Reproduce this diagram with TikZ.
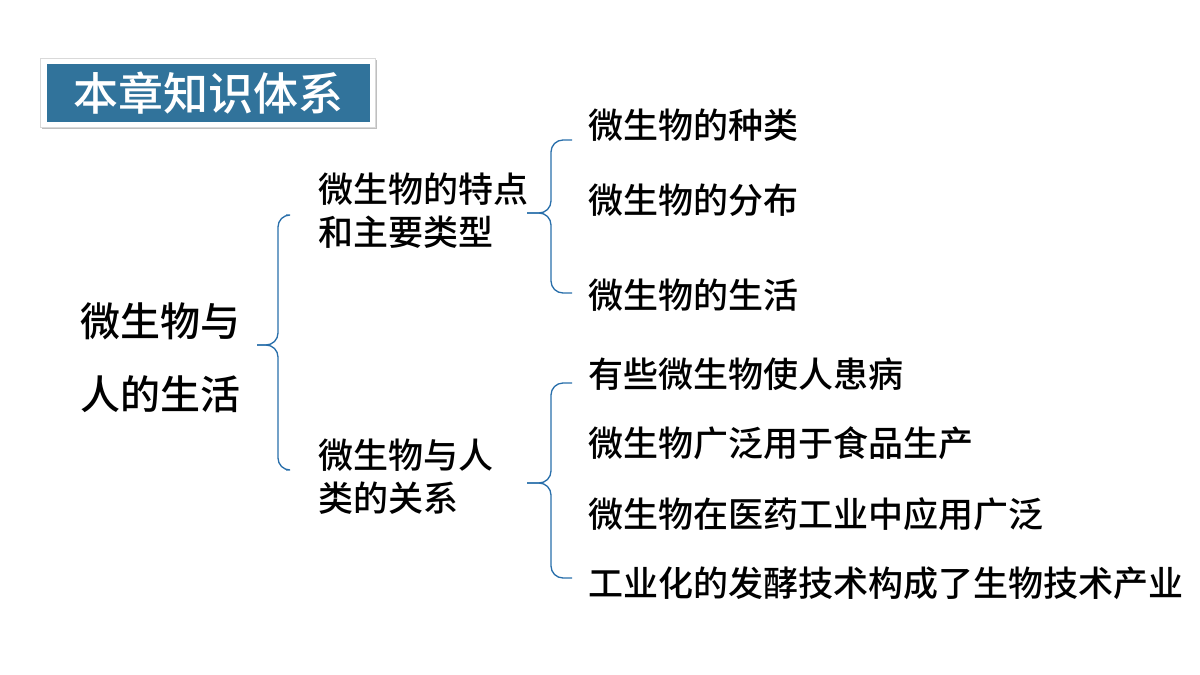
\documentclass[tikz,border=0pt]{standalone}
\usepackage{fontspec}
\setmainfont{Noto Sans CJK SC}[BoldFont={Noto Sans CJK SC Medium}]
\usetikzlibrary{positioning}
\definecolor{titleblue}{RGB}{49,115,155}
\definecolor{bracketblue}{RGB}{40,110,170}
\begin{document}
\begin{tikzpicture}[x=1pt,y=-1pt]
\tikzstyle{root}=[anchor=west, inner sep=0pt, font=\bfseries\fontsize{40}{73}\selectfont]
\tikzstyle{mid}=[anchor=west, inner sep=0pt, align=left, font=\bfseries\fontsize{35}{43}\selectfont]
\tikzstyle{leaf}=[anchor=west, inner sep=0pt, font=\bfseries\fontsize{35}{40}\selectfont]
\tikzstyle{brace}=[draw=bracketblue, line width=1.3pt, rounded corners=12pt]
\useasboundingbox (0,0) rectangle (1200,675);

  % title
  \fill[black!25] (42,60) rectangle (377,129);
  \fill[white, draw=black!15] (40,58) rectangle (375,127);
  \node[fill=titleblue, text=white, minimum width=323pt, minimum height=58pt,
        font=\bfseries\fontsize{45}{48}\selectfont] (title) at (208.5,93) {本章知识体系};

  % texts
  \node[root, align=left] (life) at (80,358) {微生物与\\人的生活};
  \node[mid] (traits)   at (318,211) {微生物的特点\\和主要类型};
  \node[mid] (relation) at (318,477) {微生物与人\\类的关系};

  \node[leaf] (kinds)   at (588,125) {微生物的种类};
  \node[leaf] (spread)  at (588,200) {微生物的分布};
  \node[leaf] (living)  at (588,295) {微生物的生活};

  \node[leaf] (disease) at (588,374) {有些微生物使人患病};
  \node[leaf] (food)    at (588,443) {微生物广泛用于食品生产};
  \node[leaf] (medic)   at (588,514) {微生物在医药工业中应用广泛};
  \node[leaf] (ferment) at (588,583) {工业化的发酵技术构成了生物技术产业};

  % brackets
  \coordinate (b1) at (257,345);
  \coordinate (b2) at (527,213);
  \coordinate (b3) at (527,483);
  \draw[brace] ([xshift=-32pt]traits.west |- 0,215) -- (278,215) -- (278,345) -- (b1);
  \draw[brace] ([xshift=-32pt]relation.west |- 0,470) -- (278,470) -- (278,345) -- (b1);
  \draw[brace] ([xshift=-16pt]kinds.west |- 0,140) -- (551,140) -- (551,213) -- (b2);
  \draw[brace] ([xshift=-16pt]living.west |- 0,293) -- (551,293) -- (551,213) -- (b2);
  \draw[brace] ([xshift=-16pt]disease.west |- 0,383) -- (551,383) -- (551,483) -- (b3);
  \draw[brace] ([xshift=-16pt]ferment.west |- 0,578) -- (551,578) -- (551,483) -- (b3);

\end{tikzpicture}
\end{document}
